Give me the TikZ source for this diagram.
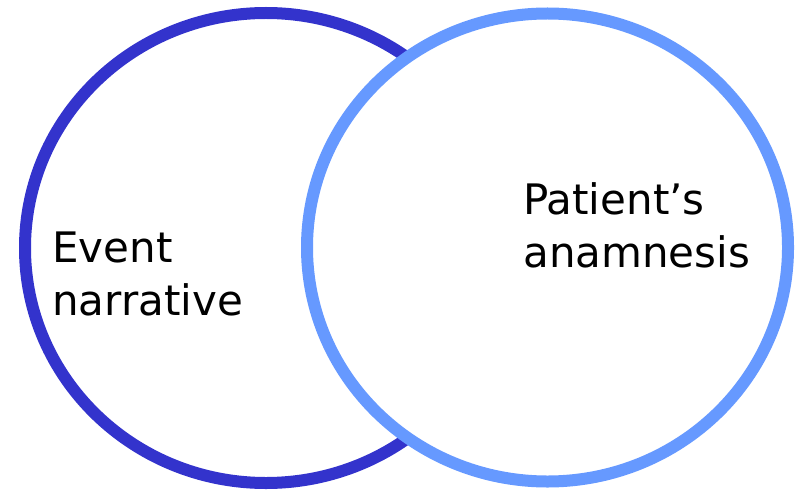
\documentclass[tikz,border=0pt]{standalone}
\usepackage{fontspec}
\setmainfont{DejaVu Sans}
\usepackage{tikz}
\definecolor{darkblue}{HTML}{3333CC}
\definecolor{lightblue}{HTML}{6699FF}
\tikzstyle{every node}=[font=\fontsize{31.5}{39.5}\selectfont, inner sep=0pt, align=left]
\tikzstyle{ring}=[line width=9pt]

\begin{document}
\begin{tikzpicture}[x=0.75pt, y=0.75pt]
            \useasboundingbox (0, 0) rectangle (798, 490);

            \draw [ring, darkblue] (266, 242) ellipse [x radius=241, y radius=235];
            \draw [ring, lightblue, fill=white] (547.5, 242.5) ellipse [x radius=240.5, y radius=234];

            \node (event) [anchor=base west] at (52, 175) {Event\\narrative};
            \node (patient) [anchor=base west] at (523, 223) {Patient’s\\anamnesis};
        \end{tikzpicture}
\end{document}
